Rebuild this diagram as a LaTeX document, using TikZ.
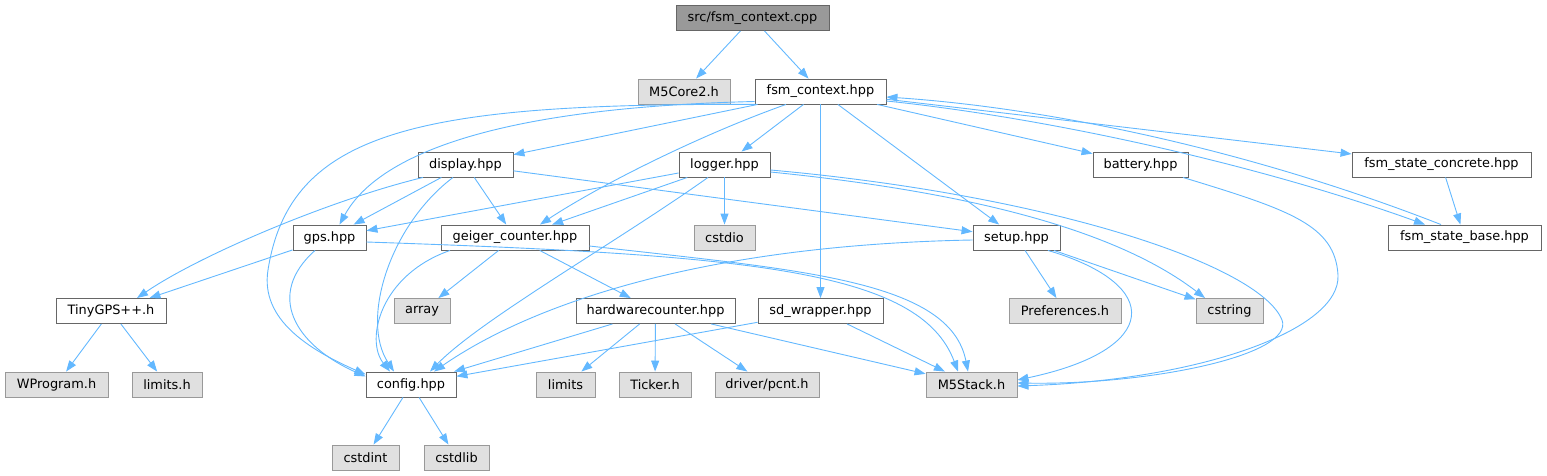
\documentclass[tikz,border=0pt]{standalone}
\usepackage{fontspec}
\setmainfont{DejaVu Sans}
\usetikzlibrary{arrows.meta}
\definecolor{edgeblue}{HTML}{63B8FF}
\definecolor{bordergray}{HTML}{666666}
\definecolor{extborder}{HTML}{999999}
\definecolor{extfill}{HTML}{E0E0E0}
\definecolor{rootfill}{HTML}{999999}
\begin{document}
\begin{tikzpicture}[x=1pt,y=-1pt,
  box/.style={draw=bordergray, fill=white, line width=0.9pt, minimum height=25pt, inner sep=0pt, font=\fontsize{12.9}{14}\selectfont},
  ext/.style={box, draw=extborder, fill=extfill},
  root/.style={box, fill=rootfill},
  dep/.style={draw=edgeblue, line width=0.9pt, -{Triangle[length=11pt,width=8pt]}}]
\useasboundingbox (0,0) rectangle (1547,476);
% nodes
\node[root, minimum width=153pt] (cpp) at (752.5,18) {src/fsm\_context.cpp};
\node[ext, minimum width=92pt] (m5core2) at (684,91.5) {M5Core2.h};
\node[box, minimum width=131pt] (ctx) at (820.5,91.5) {fsm\_context.hpp};
\node[box, minimum width=95pt] (display) at (465.5,164.5) {display.hpp};
\node[box, minimum width=91pt] (logger) at (724.5,164.5) {logger.hpp};
\node[box, minimum width=95pt] (battery) at (1140.5,164.5) {battery.hpp};
\node[box, minimum width=179pt] (concrete) at (1441.5,164.5) {fsm\_state\_concrete.hpp};
\node[box, minimum width=153pt] (base) at (1464.5,237.5) {fsm\_state\_base.hpp};
\node[box, minimum width=73pt] (gps) at (329.5,237.5) {gps.hpp};
\node[box, minimum width=148pt] (geiger) at (515,237.5) {geiger\_counter.hpp};
\node[ext, minimum width=61pt] (cstdio) at (724.5,237.5) {cstdio};
\node[box, minimum width=87pt] (setup) at (1016.5,237.5) {setup.hpp};
\node[ext, minimum width=56pt] (array) at (422,311) {array};
\node[box, minimum width=159pt] (hwc) at (655.5,311) {hardwarecounter.hpp};
\node[box, minimum width=125pt] (sdw) at (820.5,311) {sd\_wrapper.hpp};
\node[ext, minimum width=112pt] (prefs) at (1065,311) {Preferences.h};
\node[ext, minimum width=67pt] (cstring) at (1229.5,311) {cstring};
\node[box, minimum width=110pt] (tiny) at (111,311) {TinyGPS++.h};
\node[ext, minimum width=103pt] (wprog) at (56.5,384.5) {WProgram.h};
\node[ext, minimum width=70pt] (limitsh) at (167,384.5) {limits.h};
\node[box, minimum width=90pt] (config) at (411,384.5) {config.hpp};
\node[ext, minimum width=67pt] (cstdint) at (365.5,457.5) {cstdint};
\node[ext, minimum width=65pt] (cstdlib) at (456.5,457.5) {cstdlib};
\node[ext, minimum width=59pt] (limits) at (565.5,384.5) {limits};
\node[ext, minimum width=72pt] (ticker) at (655,384.5) {Ticker.h};
\node[ext, minimum width=104pt] (pcnt) at (767,384.5) {driver/pcnt.h};
\node[ext, minimum width=91pt] (m5stack) at (971.5,384.5) {M5Stack.h};
% straight edges
\draw[dep] (cpp) -- (m5core2);
\draw[dep] (cpp) -- (ctx);
\draw[dep] (ctx) -- (display);
\draw[dep] (ctx) -- (logger);
\draw[dep] (ctx) -- (sdw);
\draw[dep] (ctx) -- (setup);
\draw[dep] (ctx) -- (battery);
\draw[dep] (ctx) -- (concrete);
\draw[dep] (concrete) -- (base);
\draw[dep] (display) -- (gps);
\draw[dep] (display) -- (geiger);
\draw[dep] (display) -- (setup);
\draw[dep] (logger) -- (gps);
\draw[dep] (logger) -- (geiger);
\draw[dep] (logger) -- (cstdio);
\draw[dep] (gps) -- (tiny);
\draw[dep] (geiger) -- (array);
\draw[dep] (geiger) -- (hwc);
\draw[dep] (hwc) -- (config);
\draw[dep] (hwc) -- (limits);
\draw[dep] (hwc) -- (ticker);
\draw[dep] (hwc) -- (pcnt);
\draw[dep] (hwc) -- (m5stack);
\draw[dep] (sdw) -- (config);
\draw[dep] (sdw) -- (m5stack);
\draw[dep] (setup) -- (prefs);
\draw[dep] (setup) -- (cstring);
\draw[dep] (tiny) -- (wprog);
\draw[dep] (tiny) -- (limitsh);
\draw[dep] (config) -- (cstdint);
\draw[dep] (config) -- (cstdlib);
% curved edges
\draw[dep] ([yshift=-10pt]ctx.west) .. controls (480,108) and (375,160) .. ([xshift=10pt]gps.north);
\draw[dep] ([xshift=2pt]ctx.south west) .. controls (420,103) and (290,130) .. (268,270) .. controls (260,320) and (310,350) .. ([yshift=10pt]config.west);
\draw[dep] ([xshift=-34.5pt]ctx.south) .. controls (700,135) and (600,185) .. ([xshift=25pt]geiger.north);
\draw[dep] ([yshift=-9.5pt]ctx.east) .. controls (1050,118) and (1260,165) .. ([xshift=-39.5pt]base.north);
\draw[dep] ([xshift=-23.5pt]base.north) .. controls (1250,150) and (1050,108) .. ([yshift=-5.5pt]ctx.east);
\draw[dep] ([xshift=-14.5pt]gps.south) .. controls (265,295) and (295,345) .. ([yshift=8pt]config.west);
\draw[dep] ([yshift=-4.5pt]gps.east) .. controls (750,255) and (920,270) .. ([xshift=-13.5pt]m5stack.north);
\draw[dep] ([xshift=-12.5pt]display.south) .. controls (390,225) and (360,320) .. ([xshift=-17pt]config.north);
\draw[dep] ([xshift=-42.5pt]display.south) .. controls (330,200) and (200,255) .. ([xshift=26pt]tiny.north);
\draw[dep] ([xshift=-65pt]geiger.south) .. controls (380,275) and (365,340) .. ([xshift=-21pt]config.north);
\draw[dep] ([yshift=-8.5pt]geiger.east) .. controls (800,270) and (950,280) .. ([xshift=-3.5pt]m5stack.north);
\draw[dep] ([xshift=-16.5pt]logger.south) .. controls (620,240) and (480,320) .. ([xshift=19pt]config.north);
\draw[dep] ([yshift=-7.5pt]logger.east) .. controls (950,190) and (1110,225) .. ([xshift=-24.5pt]cstring.north);
\draw[dep] ([yshift=-5.5pt]logger.east) .. controls (1050,195) and (1260,265) .. (1282,320) .. controls (1295,355) and (1150,385) .. ([yshift=1.5pt]m5stack.east);
\draw[dep] ([yshift=-2.5pt]setup.west) .. controls (700,245) and (530,305) .. ([xshift=23pt]config.north);
\draw[dep] ([xshift=31.5pt]setup.south) .. controls (1165,285) and (1160,350) .. ([yshift=4.5pt]m5stack.east);
\draw[dep] ([xshift=42.5pt]battery.south) .. controls (1290,210) and (1335,225) .. (1338,275) .. controls (1341,330) and (1200,380) .. ([yshift=-1.5pt]m5stack.east);
\end{tikzpicture}
\end{document}
